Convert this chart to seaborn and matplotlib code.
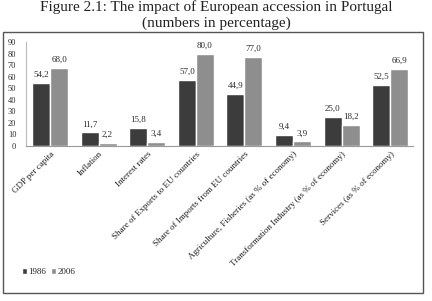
import matplotlib
matplotlib.use("Agg")
import matplotlib.pyplot as plt
import seaborn as sns
import pandas as pd
from matplotlib.patches import Rectangle, Patch

categories = ["GDP per capita", "Inflation", "Interest rates",
              "Share of Exports to EU countries", "Share of Imports from EU countries",
              "Agriculture, Fisheries (as % of economy)",
              "Transformation Industry (as % of economy)",
              "Services (as % of economy)"]
values_1986 = [54.2, 11.7, 15.8, 57.0, 44.9, 9.4, 25.0, 52.5]
values_2006 = [68.0, 2.2, 3.4, 80.0, 77.0, 3.9, 18.2, 66.9]
series = ["1986", "2006"]
yticks = [0, 10, 20, 30, 40, 50, 60, 70, 80, 90]

df = pd.DataFrame({
    "category": categories * 2,
    "value": values_1986 + values_2006,
    "year": [series[0]] * len(categories) + [series[1]] * len(categories),
})

sns.set_theme(style="white")
plt.rcParams["font.family"] = ["Liberation Serif", "DejaVu Serif"]

fig = plt.figure(figsize=(4.32, 3.01), dpi=100)
fig.patch.set_facecolor("white")
ax = fig.add_axes([0.0602, 0.515, 0.896, 0.345])

palette = {"1986": "#3c3c3c", "2006": "#8e8e8e"}
sns.barplot(data=df, x="category", y="value", hue="year", palette=palette,
            width=0.74, ax=ax, legend=False, saturation=1)

for cont in ax.containers:
    labels = [f"{v:.1f}".replace(".", ",") for v in cont.datavalues]
    ax.bar_label(cont, labels=labels, fontsize=6.5, padding=3, color="#2a2a2a")

ax.set_ylim(0, 90)
ax.set_yticks(yticks)
ax.set_yticklabels([str(t) for t in yticks], fontsize=6, color="#2a2a2a")
ax.tick_params(axis="y", length=0, pad=7)
ax.tick_params(axis="x", length=0, pad=3)
ax.set_xticks(range(len(categories)))
ax.set_xticklabels(categories, rotation=45, ha="right", rotation_mode="anchor",
                   fontsize=6.5, color="#1e1e1e")
ax.set_xlabel("")
ax.set_ylabel("")
for s in ["top", "right"]:
    ax.spines[s].set_visible(False)
ax.spines["left"].set_color("#bbbbbb")
ax.spines["bottom"].set_color("#999999")
ax.spines["left"].set_linewidth(0.8)
ax.spines["bottom"].set_linewidth(0.8)
ax.set_xlim(-0.494, 7.47)

handles = [Patch(facecolor=palette[s], label=s) for s in series]
fig.legend(handles=handles, loc="center left", bbox_to_anchor=(0.05, 0.096),
           ncol=2, frameon=False, fontsize=6.5, handlelength=0.6, handleheight=0.6,
           handletextpad=0.15, columnspacing=0.5, borderpad=0, borderaxespad=0)

fig.patches.append(Rectangle((0.007, 0.027), 0.972, 0.867, transform=fig.transFigure,
                             fill=False, edgecolor="#555555", linewidth=1.0))

fig.text(0.5, 1 - 11.5 / 301, "Figure 2.1: The impact of European accession in Portugal",
         ha="center", va="baseline", fontsize=11, color="#222222")
fig.text(0.5, 1 - 27 / 301, "(numbers in percentage)", ha="center", va="baseline",
         fontsize=11, color="#222222")

fig.savefig("out.png", dpi=100)
